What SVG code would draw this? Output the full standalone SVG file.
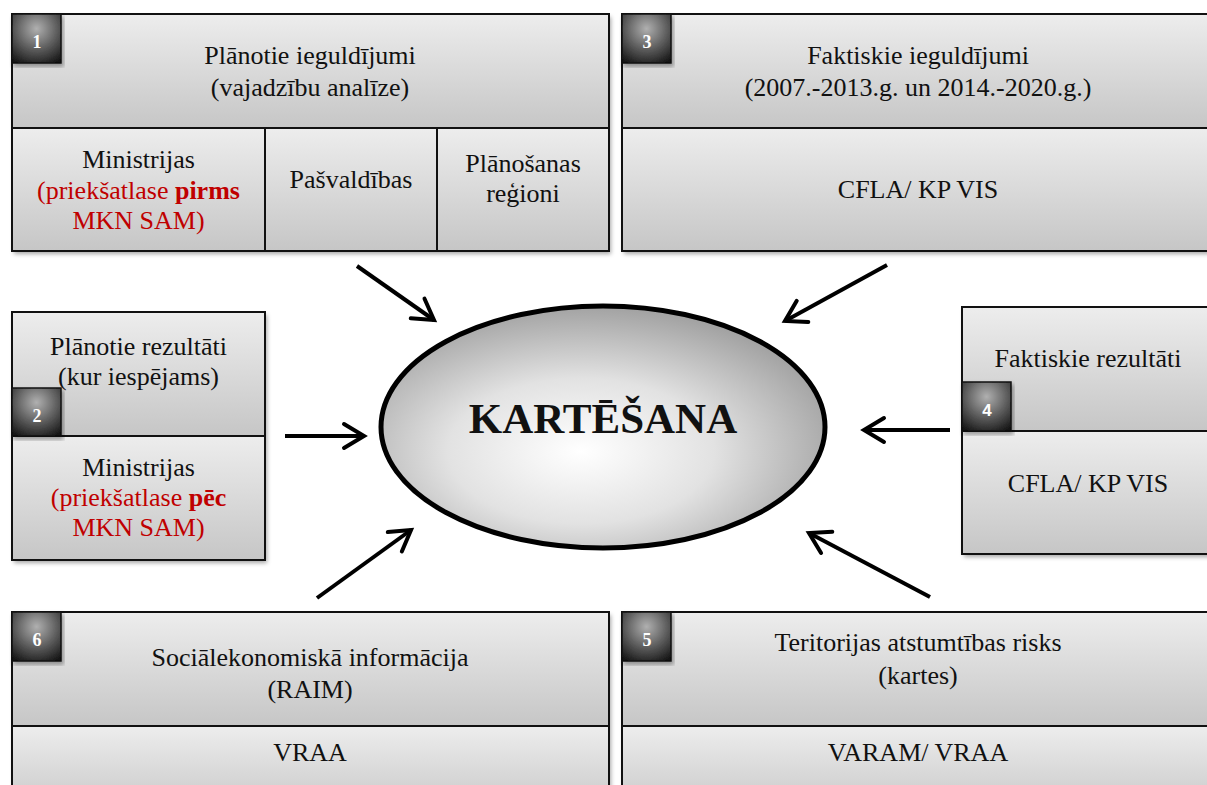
<svg xmlns="http://www.w3.org/2000/svg" width="1207" height="785" viewBox="0 0 1207 785">
<defs>
<linearGradient id="cell" x1="0" y1="0" x2="0" y2="1">
<stop offset="0" stop-color="#ededed"/>
<stop offset="1" stop-color="#c6c6c6"/>
</linearGradient>
<radialGradient id="badge" cx="0.5" cy="0.3" r="0.8">
<stop offset="0" stop-color="#b0b0b0"/>
<stop offset="0.55" stop-color="#5a5a5a"/>
<stop offset="1" stop-color="#151515"/>
</radialGradient>
<radialGradient id="ell" cx="0.45" cy="0.6" r="0.6">
<stop offset="0" stop-color="#ffffff"/>
<stop offset="0.5" stop-color="#e2e2e2"/>
<stop offset="1" stop-color="#a2a2a2"/>
</radialGradient>
<filter id="sh" x="-5%" y="-5%" width="112%" height="115%">
<feDropShadow dx="2" dy="3" stdDeviation="2" flood-color="#000" flood-opacity="0.35"/>
</filter>
<marker id="ah" markerUnits="userSpaceOnUse" markerWidth="40" markerHeight="40" viewBox="-30 -20 40 40" refX="0" refY="0" orient="auto" overflow="visible">
<path d="M-20,-12 L0,0 L-20,12" fill="none" stroke="#000" stroke-width="4" stroke-linecap="round" stroke-linejoin="miter"/>
</marker>
</defs>
<style>
.c{fill:url(#cell);stroke:#111;stroke-width:2}
.o{fill:#fff;stroke:none;filter:url(#sh)}
.b{fill:url(#badge);stroke:#111;stroke-width:1.5;filter:url(#sh)}
.t{font-family:"Liberation Serif","Times New Roman",serif;font-size:26px;fill:#111;text-anchor:middle}
.r{fill:#c00000}
.n{font-family:"Liberation Serif","Times New Roman",serif;font-size:18px;font-weight:bold;fill:#fff;text-anchor:middle}
.a{fill:none;stroke:#000;stroke-width:4;marker-end:url(#ah)}
</style>
<rect width="1207" height="785" fill="#fff"/>

<g id="node1">
<rect class="o" x="12" y="14" width="597" height="237"/>
<rect class="c" x="12" y="14" width="597" height="114"/>
<rect class="c" x="12" y="128" width="253" height="123"/>
<rect class="c" x="265" y="128" width="172" height="123"/>
<rect class="c" x="437" y="128" width="172" height="123"/>
<rect class="b" x="12" y="14" width="49" height="49"/>
<text class="n" x="37" y="48">1</text>
<text class="t" x="310" y="64">Plānotie ieguldījumi</text>
<text class="t" x="310" y="96">(vajadzību analīze)</text>
<text class="t" x="138.5" y="168">Ministrijas</text>
<text class="t r" x="138.5" y="199">(priekšatlase <tspan font-weight="bold">pirms</tspan></text>
<text class="t r" x="138.5" y="229">MKN SAM)</text>
<text class="t" x="351" y="188">Pašvaldības</text>
<text class="t" x="523" y="172">Plānošanas</text>
<text class="t" x="523" y="202">reģioni</text>
</g>

<g id="node3">
<rect class="o" x="622" y="14" width="592" height="237"/>
<rect class="c" x="622" y="14" width="592" height="114"/>
<rect class="c" x="622" y="128" width="592" height="123"/>
<rect class="b" x="622" y="14" width="49" height="49"/>
<text class="n" x="647" y="48">3</text>
<text class="t" x="918" y="64">Faktiskie ieguldījumi</text>
<text class="t" x="918" y="96">(2007.-2013.g. un 2014.-2020.g.)</text>
<text class="t" x="918" y="198">CFLA/ KP VIS</text>
</g>

<g id="node2">
<rect class="o" x="12" y="312" width="253" height="248"/>
<rect class="c" x="12" y="312" width="253" height="124"/>
<rect class="c" x="12" y="436" width="253" height="124"/>
<rect class="b" x="12" y="388" width="49" height="48"/>
<text class="n" x="37" y="422">2</text>
<text class="t" x="138.5" y="355">Plānotie rezultāti</text>
<text class="t" x="138.5" y="385">(kur iespējams)</text>
<text class="t" x="138.5" y="476">Ministrijas</text>
<text class="t r" x="138.5" y="506">(priekšatlase <tspan font-weight="bold">pēc</tspan></text>
<text class="t r" x="138.5" y="536">MKN SAM)</text>
</g>

<g id="node4">
<rect class="o" x="962" y="307" width="252" height="247"/>
<rect class="c" x="962" y="307" width="252" height="124"/>
<rect class="c" x="962" y="431" width="252" height="123"/>
<rect class="b" x="962" y="382" width="49" height="49"/>
<text class="n" x="987" y="416" style="font-family:'Liberation Sans',Arial,sans-serif;font-size:17px">4</text>
<text class="t" x="1088" y="367">Faktiskie rezultāti</text>
<text class="t" x="1088" y="492">CFLA/ KP VIS</text>
</g>

<g id="node6">
<rect class="o" x="12" y="612" width="597" height="200"/>
<rect class="c" x="12" y="612" width="597" height="114"/>
<rect class="c" x="12" y="726" width="597" height="90"/>
<rect class="b" x="12" y="612" width="49" height="49"/>
<text class="n" x="37" y="646">6</text>
<text class="t" x="310" y="666">Sociālekonomiskā informācija</text>
<text class="t" x="310" y="698">(RAIM)</text>
<text class="t" x="310" y="761">VRAA</text>
</g>

<g id="node5">
<rect class="o" x="622" y="612" width="592" height="200"/>
<rect class="c" x="622" y="612" width="592" height="114"/>
<rect class="c" x="622" y="726" width="592" height="90"/>
<rect class="b" x="622" y="612" width="49" height="49"/>
<text class="n" x="647" y="646">5</text>
<text class="t" x="918" y="651">Teritorijas atstumtības risks</text>
<text class="t" x="918" y="684">(kartes)</text>
<text class="t" x="918" y="761">VARAM/ VRAA</text>
</g>

<g id="center">
<ellipse cx="603" cy="427" rx="222" ry="121" fill="url(#ell)" stroke="#000" stroke-width="5"/>
<text x="603" y="433" style="font-family:'Liberation Serif','Times New Roman',serif;font-size:43px;font-weight:bold;fill:#111;text-anchor:middle">KARTĒŠANA</text>
</g>

<g id="connectors">
<line class="a" x1="357" y1="266" x2="434" y2="320"/>
<line class="a" x1="887" y1="265" x2="785" y2="321"/>
<line class="a" x1="285" y1="436" x2="364" y2="436"/>
<line class="a" x1="950" y1="430" x2="864" y2="430"/>
<line class="a" x1="317" y1="598" x2="411" y2="530"/>
<line class="a" x1="930" y1="597" x2="809" y2="533"/>
</g>
</svg>
